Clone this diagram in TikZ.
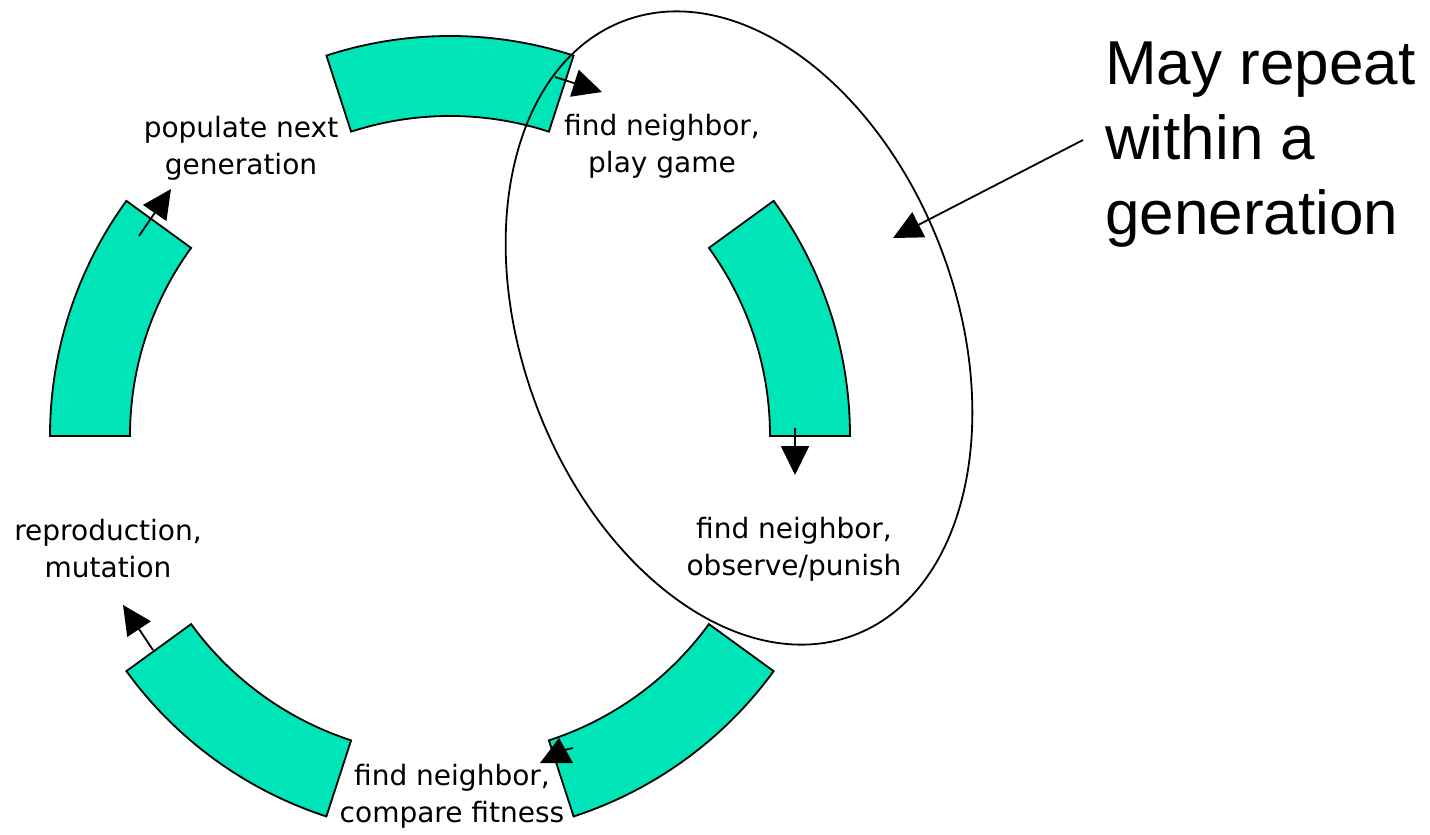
\documentclass[tikz,border=0pt]{standalone}
\usepackage{fontspec}
\setmainfont{DejaVu Sans}
\newfontfamily\bigfont{Liberation Sans}
\usetikzlibrary{arrows.meta}
\definecolor{segfill}{RGB}{0,229,184}
\begin{document}
\begin{tikzpicture}[x=1pt,y=1pt,
  seg/.style={fill=segfill,draw=black,line width=1.8pt,line join=miter},
  flow/.style={line width=1.8pt,-{Triangle[length=29pt,width=28pt]}},
  lab/.style={align=center,font=\fontsize{28}{37}\selectfont,inner sep=0pt},
  big/.style={align=left,font=\bigfont\fontsize{62}{75}\selectfont,inner sep=0pt},
  ring/.style={draw=black,line width=1.8pt}]
\useasboundingbox (0,0) rectangle (1430,-835);
\coordinate (O) at (450,-436);
\foreach \a/\b in {0/36,72/108,144/180,216/252,288/324}{
  \draw[seg] ([shift={(O)}]\a:400) arc[start angle=\a,end angle=\b,radius=400]
     -- ([shift={(O)}]\b:320) arc[start angle=\b,end angle=\a,radius=320] -- cycle;
}
% ellipse marking the repeated part
\draw[ring,rotate around={20.4:(739,-328)}] (739,-328) ellipse [x radius=217,y radius=328];
% flow arrows
\coordinate (a1s) at (555,-77);   \coordinate (a1e) at (602,-92);
\coordinate (a2s) at (795,-428);  \coordinate (a2e) at (795,-475);
\coordinate (a4s) at (153,-650);  \coordinate (a4e) at (123,-605);
\coordinate (a5s) at (139,-236);  \coordinate (a5e) at (171,-189);
\draw[flow] (a1s) -- (a1e);
\draw[flow] (a2s) -- (a2e);
\draw[flow] (a4s) -- (a4e);
\draw[flow] (a5s) -- (a5e);
\fill (540,-763) -- (573,-763) -- (559,-738) -- cycle;
\draw[line width=1.8pt] (560,-751) -- (573,-748);
% labels
\node[lab] (pop)  at (241,-148) {populate next\\generation};
\node[lab] (play) at (662,-146) {find neighbor,\\play game};
\node[lab] (obs)  at (794,-549) {find neighbor,\\observe/punish};
\node[lab] (rep)  at (108,-549) {reproduction,\\mutation};
\node[lab] (cmp)  at (452,-796) {find neighbor,\\compare fitness};
\node[big,anchor=north west] (note) at (1105,-42) {May repeat\\within a\\generation};
\coordinate (cs) at (1083,-140);
\coordinate (ce) at (893,-238);
\draw[flow] (cs) -- (ce);
\end{tikzpicture}
\end{document}
